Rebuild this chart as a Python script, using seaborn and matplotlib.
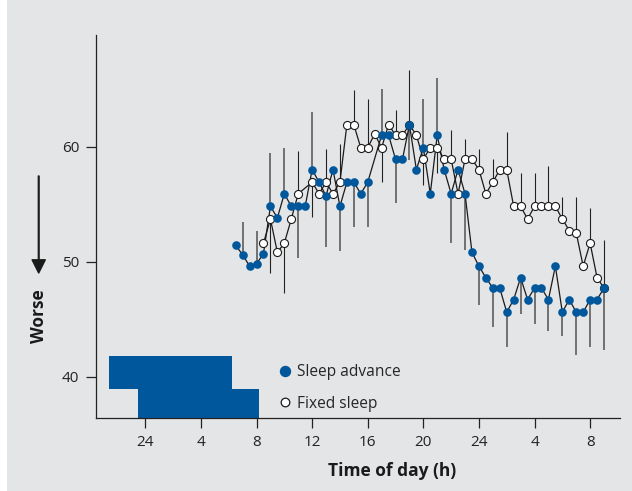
import matplotlib
matplotlib.use("Agg")
import matplotlib.pyplot as plt
from matplotlib.lines import Line2D
from matplotlib.patches import Rectangle
import pandas as pd
import seaborn as sns

# half-hourly time points (hours after midnight of day 1)
hours = [6.5, 7.0, 7.5, 8.0, 8.5, 9.0, 9.5, 10.0, 10.5, 11.0,
         11.5, 12.0, 12.5, 13.0, 13.5, 14.0, 14.5, 15.0, 15.5, 16.0,
         16.5, 17.0, 17.5, 18.0, 18.5, 19.0, 19.5, 20.0, 20.5, 21.0,
         21.5, 22.0, 22.5, 23.0, 23.5, 24.0, 24.5, 25.0, 25.5, 26.0,
         26.5, 27.0, 27.5, 28.0, 28.5, 29.0, 29.5, 30.0, 30.5, 31.0,
         31.5, 32.0, 32.5, 33.0]

sleep_advance = [51.4, 50.6, 49.6, 49.8, 50.7, 54.8, 53.8, 55.9, 54.8, 54.8,
                 54.8, 58.0, 56.9, 55.7, 58.0, 54.8, 56.9, 56.9, 55.9, 56.9,
                 None, 61.0, 61.0, 58.9, 58.9, 61.9, 58.0, 59.9, 55.9, 61.0,
                 58.0, 55.9, 58.0, 55.9, 50.8, 49.6, 48.6, 47.7, 47.7, 45.6,
                 46.7, 48.6, 46.7, 47.7, 47.7, 46.7, 49.6, 45.6, 46.7, 45.6,
                 45.6, 46.7, 46.7, 47.7]

fixed_sleep = [None, None, None, None, 51.6, 53.7, 50.8, 51.6, 53.7, 55.9,
               None, 56.9, 55.9, 56.9, 55.9, 56.9, 61.9, 61.9, 59.9, 59.9,
               61.1, 59.9, 61.9, 61.0, 61.0, 61.9, 61.0, 58.9, 59.9, 59.9,
               58.9, 58.9, 55.9, 58.9, 58.9, 58.0, 55.9, 56.9, 58.0, 58.0,
               54.8, 54.8, 53.7, 54.8, 54.8, 54.8, 54.8, 53.7, 52.7, 52.5,
               49.6, 51.6, 48.6, 47.7]

# hourly error bars: value at the end of each one-sided bar
bar_hours = [7, 8, 9, 10, 11, 12, 13, 14, 15, 16, 17, 18, 19, 20,
             21, 22, 23, 24, 25, 26, 27, 28, 29, 30, 31, 32, 33]
advance_bar_end = [53.4, 52.7, 59.4, 59.9, 50.3, 63.0, 51.3, 50.9, 53.0, 53.0,
                   65.0, 55.1, 58.8, 64.1, 66.0, 51.6, 51.0, 46.2, 44.3, 42.6,
                   45.4, 44.6, 44.0, 43.5, 41.9, 42.6, 42.3]
fixed_bar_end = [None, None, 49.0, 47.3, 59.6, 53.9, 59.8, 60.2, 64.9, 64.1,
                 56.9, 63.2, 66.7, 56.7, 57.7, 61.4, 60.7, 59.8, 58.9, 61.3,
                 57.7, 57.7, 58.3, 55.6, 55.6, 54.7, 51.9]

# sleep episodes (start, end, lower, upper)
sleep_start = [-2.6, -0.5]
sleep_end = [6.2, 8.2]
sleep_low = [38.9, 36.4]
sleep_high = [41.8, 38.9]

tick_pos = [0, 4, 8, 12, 16, 20, 24, 28, 32]
tick_labels = ["24", "4", "8", "12", "16", "20", "24", "4", "8"]

BLUE = "#00579c"
BG = "#e4e5e7"
INK = "#1a1a1a"

sns.set_style("ticks")
plt.rcParams["font.family"] = ["Open Sans", "DejaVu Sans"]

fig = plt.figure(figsize=(6.32, 4.91), dpi=100, facecolor=BG)
# thin white strip on the left edge
fig.patches.append(Rectangle((0, 0), 7 / 632, 1, transform=fig.transFigure,
                             facecolor="white", edgecolor="none", zorder=-1))
ax = fig.add_axes([96 / 632, 73 / 491, 524 / 632, 383 / 491])
ax.set_facecolor(BG)

df = pd.DataFrame({"hour": hours,
                   "advance": pd.to_numeric(pd.Series(sleep_advance), errors="coerce"),
                   "fixed": pd.to_numeric(pd.Series(fixed_sleep), errors="coerce")})
bars = pd.DataFrame({"hour": bar_hours,
                     "adv_end": pd.to_numeric(pd.Series(advance_bar_end), errors="coerce"),
                     "fix_end": pd.to_numeric(pd.Series(fixed_bar_end), errors="coerce")})
bars = bars.merge(df, on="hour")

# sleep blocks
for s, e, lo, hi in zip(sleep_start, sleep_end, sleep_low, sleep_high):
    ax.fill_between([s, e], lo, hi, color=BLUE, lw=0, zorder=1)

# error bars
b = bars.dropna(subset=["adv_end", "advance"])
ax.vlines(b["hour"], b["advance"], b["adv_end"], color="#707070", lw=1.4, zorder=2)
b = bars.dropna(subset=["fix_end", "fixed"])
ax.vlines(b["hour"], b["fixed"], b["fix_end"], color="#222222", lw=0.8, zorder=2)

adv = df.dropna(subset=["advance"])
fix = df.dropna(subset=["fixed"])
sns.lineplot(data=adv, x="hour", y="advance", ax=ax, sort=False, color=INK,
             lw=0.9, zorder=3)
sns.lineplot(data=fix, x="hour", y="fixed", ax=ax, sort=False, color=INK,
             lw=0.9, zorder=3)
ax.plot(adv["hour"], adv["advance"], "o", ms=6.2, mfc=BLUE, mec=BLUE, mew=0, zorder=5)
ax.plot(fix["hour"], fix["fixed"], "o", ms=5.8, mfc="white", mec=INK, mew=0.8, zorder=4)

ax.set_xlim(-3.55, 34.15)
ax.set_ylim(36.4, 69.7)
ax.set_xticks(tick_pos)
ax.set_xticklabels(tick_labels)
ax.set_yticks([40, 50, 60])
ax.set_xlabel("")
ax.set_ylabel("")
ax.tick_params(axis="both", length=7, width=0.9, color="#222222", labelsize=11,
               labelcolor="#222222", pad=5)
sns.despine(ax=ax)
for side in ["left", "bottom"]:
    ax.spines[side].set_color("#222222")
    ax.spines[side].set_linewidth(0.9)

handles = [Line2D([], [], ls="", marker="o", ms=7.2, mfc=BLUE, mec=BLUE),
           Line2D([], [], ls="", marker="o", ms=6.2, mfc="white", mec=INK, mew=0.9)]
ax.legend(handles, ["Sleep advance", "Fixed sleep"], loc="lower left",
          bbox_to_anchor=(0.316, -0.02), frameon=False, fontsize=11.2,
          handletextpad=0.2, labelspacing=1.0, handlelength=1.2)

fig.text(392 / 632, 1 - 471 / 491, "Time of day (h)", ha="center", va="center",
         fontsize=12.5, fontweight="bold", color=INK)
fig.text(38.7 / 632, 1 - 316 / 491, "Worse", ha="center", va="center", rotation=90,
         fontsize=12.5, fontweight="bold", color=INK)
ax.annotate("", xy=(38.7, 491 - 273), xytext=(38.7, 491 - 176),
            xycoords="figure pixels", textcoords="figure pixels",
            arrowprops=dict(facecolor=INK, edgecolor=INK, width=0.5,
                            headwidth=9.5, headlength=9.5, shrink=0))

fig.savefig("out.png", dpi=100, facecolor=BG)
